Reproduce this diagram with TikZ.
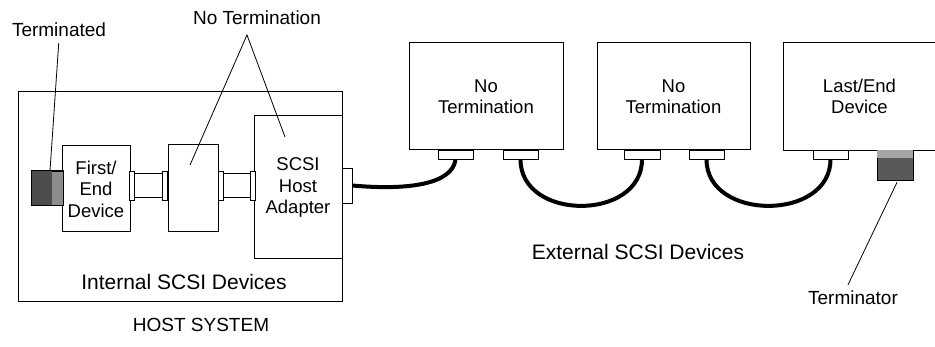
\documentclass[tikz,border=0pt]{standalone}
\usepackage{fontspec}
\setmainfont{Liberation Sans}
\usepackage{tikz}
\usetikzlibrary{positioning, calc}
\newcommand{\devfont}{\fontsize{18.5}{21.5}\selectfont}
\newcommand{\lblfont}{\fontsize{19}{22}\selectfont}
\newcommand{\grpfont}{\fontsize{21}{24}\selectfont}
\tikzstyle{device} = [rectangle, draw=black, line width=1pt, align=center, inner sep=0pt, font=\devfont]
\tikzstyle{tab} = [rectangle, draw=black, line width=0.8pt, fill=white, inner sep=0pt]
\tikzstyle{term} = [rectangle, draw=black, line width=0.6pt, inner sep=0pt, fill=black!45]
\tikzstyle{cable} = [line width=4pt, line cap=butt]
\tikzstyle{leader} = [line width=0.8pt]
\tikzstyle{lbl} = [font=\lblfont, inner sep=2pt]
\tikzstyle{grp} = [font=\grpfont, inner sep=2pt]

\begin{document}
\begin{tikzpicture}[x=1pt, y=-1pt]
\useasboundingbox (0,0) rectangle (935,347);

% host system with the internal bus
\node (host) [device, minimum width=324pt, minimum height=210pt] at (180,197) {};
\node (first) [device, minimum width=68pt, minimum height=86pt] at (96,189) {First/\\End\\Device};
\node (middle) [device, minimum width=50pt, minimum height=87pt] at (193,188.5) {};
\node (adapter) [device, minimum width=88pt, minimum height=143pt] at (298,187.5) {SCSI\\Host\\Adapter};
\node (termL) [term, minimum width=31pt, minimum height=34pt] at (47.5,188) {};
\fill [black!70] (termL.north west) rectangle ([xshift=20pt]termL.south west);
\draw [line width=0.6pt] (termL.north west) rectangle (termL.south east);

\node (plug1) [tab, minimum width=28pt, minimum height=24pt] at (148,185) {};
\node (tab1a) [tab, minimum width=5pt, minimum height=29pt] at (131.5,185.5) {};
\node (tab1b) [tab, minimum width=5pt, minimum height=29pt] at (164.5,185.5) {};
\node (plug2) [tab, minimum width=27pt, minimum height=24pt] at (236.5,185) {};
\node (tab2a) [tab, minimum width=5pt, minimum height=29pt] at (220.5,185.5) {};
\node (tab2b) [tab, minimum width=5pt, minimum height=29pt] at (252.5,185.5) {};
\node (tabout) [tab, minimum width=10pt, minimum height=35pt] at (347,185.5) {};

% external chain
\node (ext1) [device, minimum width=154pt, minimum height=107pt] at (486,96.5) {No\\Termination};
\node (ext2) [device, minimum width=153pt, minimum height=107pt] at (673.5,96.5) {No\\Termination};
\node (ext3) [device, draw=none, minimum width=151pt, minimum height=107pt] at (859.5,96.5) {Last/End\\Device};
\draw [line width=1pt] (ext3.north east) -- (ext3.north west) -- (ext3.south west) -- (ext3.south east);

\node (e1a) [tab, minimum width=35pt, minimum height=9pt] at (455.5,154.5) {};
\node (e1b) [tab, minimum width=35pt, minimum height=9pt] at (520.5,154.5) {};
\node (e2a) [tab, minimum width=36pt, minimum height=9pt] at (642,154.5) {};
\node (e2b) [tab, minimum width=35pt, minimum height=9pt] at (706.5,154.5) {};
\node (e3a) [tab, minimum width=35pt, minimum height=9pt] at (830.5,154.5) {};
\node (termR) [term, minimum width=36pt, minimum height=30pt, fill=black!65] at (895,165) {};
\fill [black!35] ([xshift=0.3pt,yshift=-0.3pt]termR.north west) rectangle ([xshift=-0.3pt,yshift=-8pt]termR.north east);

\draw [cable] (tabout.east) .. controls +(55,5) and +(-3,25) .. (e1a.south);
\draw [cable] (e1b.south) .. controls +(0,62) and +(0,62) .. (e2a.south);
\draw [cable] (e2b.south) .. controls +(0,62) and +(0,62) .. (e3a.south);

% callouts
\node (terminated) [lbl] at (59,30) {Terminated};
\node (notermination) [lbl] at (257,18) {No Termination};
\node (terminator) [lbl] at (853,298) {Terminator};
\coordinate (fork) at (247,35);
\coordinate (midhit) at (190,165);
\coordinate (adhit) at (285,137);
\draw [leader, shorten <=4pt] (terminated.south) -- ([xshift=2.5pt]termL.north);
\draw [leader] (midhit) -- (fork) -- (adhit);
\draw [leader] ([xshift=2pt,yshift=-2pt]termR.south) -- ([xshift=-5pt,yshift=4pt]terminator.north);

\node (internal) [grp] at (184,282) {Internal SCSI Devices};
\node (external) [grp] at (638,252) {External SCSI Devices};
\node (hostsys) [lbl] at (201,325) {HOST SYSTEM};
\end{tikzpicture}
\end{document}
